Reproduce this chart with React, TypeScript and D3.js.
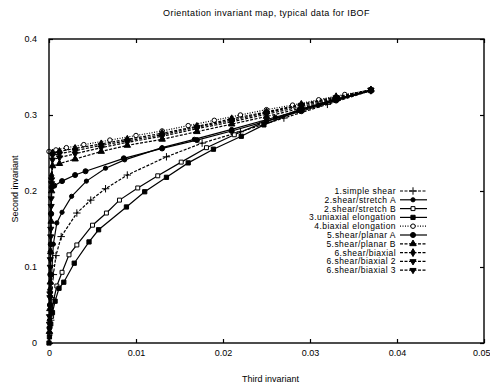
import React, { useEffect, useRef } from 'react';
import * as d3 from 'd3';

// tick labels
const xTicks = [0, 0.01, 0.02, 0.03, 0.04, 0.05];
const yTicks = [0, 0.1, 0.2, 0.3, 0.4];

const seriesNames = [
  '1.simple shear',
  '2.shear/stretch A',
  '2.shear/stretch B',
  '3.uniaxial elongation',
  '4.biaxial elongation',
  '5.shear/planar A',
  '5.shear/planar B',
  '6.shear/biaxial',
  '6.shear/biaxial 2',
  '6.shear/biaxial 3'
];

// values (third invariant, second invariant)
const simpleShearX = [0.037, 0.032, 0.027, 0.022, 0.0176, 0.0135, 0.009, 0.0065, 0.0048, 0.0032, 0.0014, 0.0008, 0.0005, 0.0003, 0.0002];
const simpleShearY = [0.332, 0.314, 0.296, 0.278, 0.263, 0.245, 0.221, 0.203, 0.188, 0.171, 0.14, 0.115, 0.09, 0.06, 0.03];

const stretchAX = [0.037, 0.031, 0.026, 0.021, 0.0167, 0.013, 0.0087, 0.0065, 0.0043, 0.0026, 0.0015, 0.0009, 0.0005, 0.0003, 0.0002, 0.0001];
const stretchAY = [0.332, 0.313, 0.297, 0.281, 0.268, 0.257, 0.241, 0.23, 0.213, 0.193, 0.172, 0.158, 0.13, 0.09, 0.05, 0.02];

const stretchBX = [0.037, 0.033, 0.0288, 0.0244, 0.0213, 0.0181, 0.0152, 0.0125, 0.0102, 0.0081, 0.0066, 0.005, 0.0032, 0.0023, 0.0015, 0.0009, 0.0005, 0.0003, 0.0001];
const stretchBY = [0.332, 0.321, 0.307, 0.289, 0.274, 0.257, 0.238, 0.22, 0.204, 0.188, 0.171, 0.155, 0.129, 0.116, 0.093, 0.075, 0.055, 0.035, 0.012];

const uniaxialX = [0.037, 0.0328, 0.0288, 0.0247, 0.0221, 0.0189, 0.016, 0.0135, 0.011, 0.0089, 0.0057, 0.0046, 0.0029, 0.0017, 0.00115, 0.0007, 0.0004, 0.0002, 0.00005, 0];
const uniaxialY = [0.332, 0.32, 0.306, 0.287, 0.272, 0.255, 0.237, 0.218, 0.199, 0.179, 0.149, 0.133, 0.105, 0.08, 0.072, 0.055, 0.04, 0.025, 0.008, 0];

const biaxialElongX = [0.037, 0.034, 0.031, 0.028, 0.025, 0.022, 0.019, 0.016, 0.013, 0.01, 0.007, 0.004, 0.002, 0.0008, 0];
const biaxialElongY = [0.333, 0.327, 0.32, 0.313, 0.307, 0.3, 0.293, 0.286, 0.279, 0.273, 0.267, 0.261, 0.257, 0.254, 0.252];

const planarAX = [0.037, 0.033, 0.029, 0.025, 0.021, 0.017, 0.013, 0.0086, 0.0042, 0.003, 0.0015, 0.0006, 0.0003, 0.00025, 0.0002, 0.00015, 0.0001, 0.00005];
const planarAY = [0.333, 0.319, 0.305, 0.292, 0.279, 0.267, 0.256, 0.243, 0.226, 0.221, 0.213, 0.207, 0.205, 0.17, 0.13, 0.09, 0.05, 0.02];

const planarBX = [0.037, 0.033, 0.029, 0.025, 0.021, 0.017, 0.013, 0.009, 0.006, 0.003, 0.0012, 0.0004, 0.0003, 0.00025, 0.0002, 0.00015, 0.0001, 0.00005];
const planarBY = [0.333, 0.321, 0.309, 0.298, 0.288, 0.278, 0.268, 0.26, 0.252, 0.242, 0.236, 0.233, 0.2, 0.16, 0.12, 0.08, 0.045, 0.015];

const shearBiaxX = [0.037, 0.033, 0.029, 0.025, 0.021, 0.017, 0.013, 0.009, 0.006, 0.003, 0.0012, 0.0004, 0.0003, 0.0002, 0.00015, 0.0001, 0.00005];
const shearBiaxY = [0.333, 0.324, 0.314, 0.304, 0.295, 0.285, 0.276, 0.268, 0.262, 0.256, 0.252, 0.25, 0.22, 0.17, 0.12, 0.07, 0.03];

const shearBiax2X = [0.037, 0.033, 0.029, 0.025, 0.021, 0.017, 0.013, 0.009, 0.006, 0.003, 0.0012, 0.0004, 0.0003, 0.00025, 0.0002, 0.00015, 0.0001, 0.00005];
const shearBiax2Y = [0.333, 0.323, 0.313, 0.303, 0.293, 0.284, 0.274, 0.266, 0.26, 0.253, 0.249, 0.247, 0.21, 0.18, 0.14, 0.1, 0.06, 0.025];

const shearBiax3X = [0.037, 0.033, 0.029, 0.025, 0.021, 0.017, 0.013, 0.009, 0.006, 0.003, 0.0012, 0.0004, 0.0003, 0.00025, 0.0002, 0.00015, 0.0001, 0.00005];
const shearBiax3Y = [0.333, 0.322, 0.311, 0.301, 0.291, 0.282, 0.272, 0.264, 0.257, 0.249, 0.244, 0.241, 0.215, 0.19, 0.15, 0.11, 0.065, 0.035];

const seriesX = [simpleShearX, stretchAX, stretchBX, uniaxialX, biaxialElongX, planarAX, planarBX, shearBiaxX, shearBiax2X, shearBiax3X];
const seriesY = [simpleShearY, stretchAY, stretchBY, uniaxialY, biaxialElongY, planarAY, planarBY, shearBiaxY, shearBiax2Y, shearBiax3Y];

// marker style per series
const markerType = [d3.symbolPlus, d3.symbolCircle, d3.symbolSquare2, d3.symbolSquare, d3.symbolCircle, d3.symbolCircle, d3.symbolTriangle, d3.symbolDiamond, d3.symbolTriangle, d3.symbolTriangle];
const markerSize = [20, 14, 20, 18, 16, 20, 18, 18, 16, 16];
const markerFilled = [false, true, false, true, false, true, true, true, true, true];
const markerFlip = [false, false, false, false, false, false, false, false, true, true];
const dashes = ['3,1.5', null, null, null, '1,1.5', null, '3,1.5', '3,1.5', '3,1.5', '3,1.5'];

const App = () => {
  const ref = useRef<SVGSVGElement>(null);

  useEffect(() => {
    const svg = d3.select(ref.current);
    svg.selectAll('*').remove();

    const left = 49, right = 484, top = 39, bottom = 343;
    const font = "'Liberation Sans', Arial, sans-serif";

    const x = d3.scaleLinear().domain([0, 0.05]).range([left, right]);
    const y = d3.scaleLinear().domain([0, 0.4]).range([bottom, top]);

    svg.append('text')
      .attr('x', (left + right) / 2)
      .attr('y', 16)
      .attr('text-anchor', 'middle')
      .attr('font-family', font)
      .attr('font-size', 9)
      .attr('letter-spacing', 0.4)
      .attr('fill', '#000')
      .text('Orientation invariant map, typical data for IBOF');

    const line = d3.line<[number, number]>()
      .x(d => x(d[0]))
      .y(d => y(d[1]));

    const plot = svg.append('g');
    seriesX.forEach((xs, i) => {
      const pts: [number, number][] = xs.map((v, j) => [v, seriesY[i][j]]);
      plot.append('path')
        .attr('d', line(pts))
        .attr('fill', 'none')
        .attr('stroke', '#000')
        .attr('stroke-width', 1.2)
        .attr('stroke-dasharray', dashes[i]);

      const sym = d3.symbol().type(markerType[i]).size(markerSize[i]);
      plot.selectAll(null)
        .data(pts)
        .enter()
        .append('path')
        .attr('d', sym())
        .attr('transform', d => `translate(${x(d[0])},${y(d[1])})${markerFlip[i] ? ' rotate(180)' : ''}`)
        .attr('fill', markerFilled[i] ? '#000' : '#fff')
        .attr('stroke', '#000')
        .attr('stroke-width', 1);
    });

    // frame with mirrored inward ticks
    svg.append('rect')
      .attr('x', left).attr('y', top)
      .attr('width', right - left).attr('height', bottom - top)
      .attr('fill', 'none').attr('stroke', '#000').attr('stroke-width', 1.4);

    const axisStyle = (g: any) => {
      g.select('.domain').remove();
      g.selectAll('.tick line').attr('stroke', '#000').attr('stroke-width', 1.2);
      g.selectAll('.tick text').attr('font-family', font).attr('font-size', 9).attr('fill', '#000');
    };

    const xAxis = svg.append('g')
      .attr('transform', `translate(0,${bottom})`)
      .call(d3.axisBottom(x).tickValues(xTicks).tickSize(-4).tickPadding(7).tickFormat(d => d3.format('~g')(d as number)))
      .call(axisStyle);
    // last label sits at the page edge, as in the scan
    xAxis.selectAll('.tick text').filter((d: any) => d === 0.05).attr('text-anchor', 'end').attr('x', 6);

    svg.append('g')
      .attr('transform', `translate(0,${top})`)
      .call(d3.axisTop(x).tickValues(xTicks).tickSize(-4).tickFormat(() => ''))
      .call(axisStyle);
    svg.append('g')
      .attr('transform', `translate(${left},0)`)
      .call(d3.axisLeft(y).tickValues(yTicks).tickSize(-4).tickPadding(12).tickFormat(d => d3.format('~g')(d as number)))
      .call(axisStyle);
    svg.append('g')
      .attr('transform', `translate(${right},0)`)
      .call(d3.axisRight(y).tickValues(yTicks).tickSize(-4).tickFormat(() => ''))
      .call(axisStyle);

    svg.append('text')
      .attr('x', (left + right) / 2 + 4)
      .attr('y', 382)
      .attr('text-anchor', 'middle')
      .attr('font-family', font)
      .attr('font-size', 9)
      .attr('fill', '#000')
      .text('Third invariant');

    svg.append('text')
      .attr('transform', `translate(18,${(top + bottom) / 2 - 2}) rotate(-90)`)
      .attr('text-anchor', 'middle')
      .attr('font-family', font)
      .attr('font-size', 9)
      .attr('fill', '#000')
      .text('Second invariant');

    // legend
    const legend = svg.append('g');
    seriesNames.forEach((name, i) => {
      const ly = 191 + i * 8.8;
      legend.append('text')
        .attr('x', 396)
        .attr('y', ly)
        .attr('dy', '0.35em')
        .attr('text-anchor', 'end')
        .attr('font-family', font)
        .attr('font-size', 8.5)
        .attr('letter-spacing', 0.45)
        .attr('fill', '#000')
        .text(name);
      legend.append('line')
        .attr('x1', 400).attr('x2', 427)
        .attr('y1', ly).attr('y2', ly)
        .attr('stroke', '#000')
        .attr('stroke-width', 1.2)
        .attr('stroke-dasharray', dashes[i]);
      legend.append('path')
        .attr('d', d3.symbol().type(markerType[i]).size(markerSize[i])())
        .attr('transform', `translate(413,${ly})${markerFlip[i] ? ' rotate(180)' : ''}`)
        .attr('fill', markerFilled[i] ? '#000' : '#fff')
        .attr('stroke', '#000')
        .attr('stroke-width', 1);
    });
  }, []);

  return (
    <svg ref={ref} width={490} height={388} style={{ position: 'absolute', left: 0, top: 0, background: '#fff' }} />
  );
};

export default App;
